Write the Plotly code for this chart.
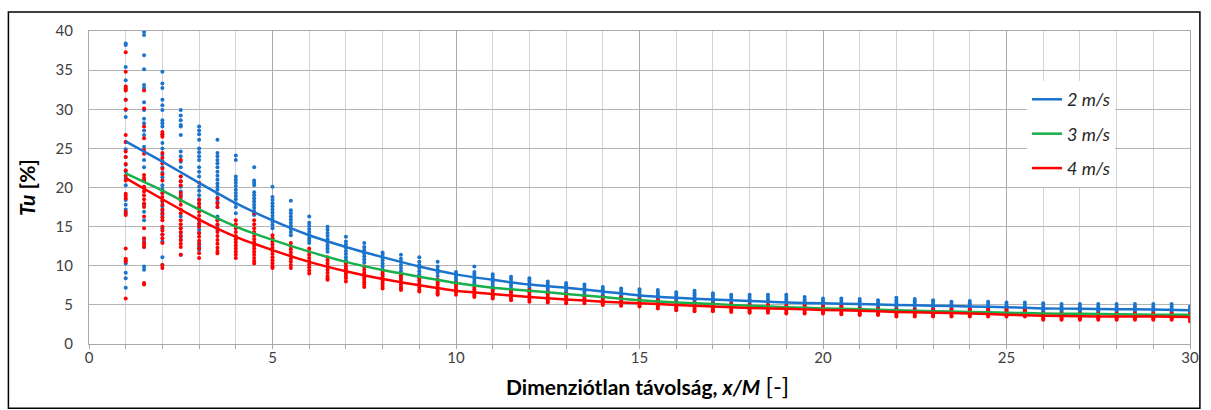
import plotly.graph_objects as go

# ---------------- data ----------------
X_COLS = [1, 1.5, 2, 2.5, 3, 3.5, 4, 4.5, 5, 5.5, 6, 6.5, 7, 7.5, 8, 8.5, 9, 9.5, 10, 10.5,
          11, 11.5, 12, 12.5, 13, 13.5, 14, 14.5, 15, 15.5, 16, 16.5, 17, 17.5, 18, 18.5, 19, 19.5,
          20, 20.5, 21, 21.5, 22, 22.5, 23, 23.5, 24, 24.5, 25, 25.5, 26, 26.5, 27, 27.5, 28, 28.5,
          29, 29.5, 30]

BLUE_COLS = [
    [38.4, 38.2, 35.4, 33.7, 32.7, 31.2, 29.9, 29.0, 25.8, 24.9, 23.9, 22.9, 22.0, 21.2, 20.3, 18.4, 17.8, 17.2, 16.7, 10.3, 9.1, 8.4, 7.2],
    [39.9, 39.5, 36.9, 35.1, 33.1, 32.7, 30.9, 29.9, 28.8, 28.2, 27.3, 26.7, 25.2, 23.5, 22.6, 20.9, 19.9, 17.8, 16.9, 15.8, 13.3, 12.4, 9.9, 9.5],
    [34.8, 33.3, 32.7, 31.2, 30.5, 29.9, 28.6, 28.2, 27.8, 26.7, 25.7, 25.0, 24.2, 23.4, 22.6, 21.9, 21.3, 20.3, 19.8, 19.3, 18.2, 17.6, 17.0, 16.5, 14.8, 14.0, 13.1, 11.1, 10.1],
    [29.9, 29.2, 28.6, 28.0, 27.8, 26.7, 24.6, 24.0, 23.3, 22.6, 21.4, 20.8, 20.1, 19.5, 19.0, 18.4, 16.3, 14.8, 14.2, 13.7, 13.3, 11.4],
    [27.8, 27.3, 26.8, 26.1, 25.0, 24.5, 24.0, 23.5, 22.6, 22.0, 21.4, 20.1, 19.6, 19.0, 18.5, 18.0, 17.5, 15.8, 15.2, 14.6, 14.2, 12.9, 12.4, 12.0],
    [26.1, 24.4, 24.0, 23.5, 23.1, 22.6, 22.0, 21.5, 21.0, 20.5, 20.1, 19.7, 19.2, 18.7, 18.2, 17.5, 16.3, 15.8, 15.2, 14.6],
    [24.1, 23.5, 21.4, 21.0, 20.6, 20.2, 19.7, 19.3, 18.9, 18.5, 18.0, 17.5, 16.7],
    [22.6, 20.9, 20.6, 20.3, 19.4, 19.0, 18.6, 18.2, 17.8, 17.4, 17.0, 16.5],
    [20.1, 18.8, 18.4, 18.0, 17.6, 17.2, 16.8, 16.4, 16.0, 15.6, 15.2, 14.8],
    [18.3, 17.1, 16.7, 16.3, 15.9, 15.5, 15.1, 14.7, 14.3, 13.9],
    [16.3, 15.5, 15.1, 14.7, 14.3, 13.9, 13.5, 13.2, 12.9],
    [15.0, 14.6, 14.2, 13.8, 13.4, 13.0, 12.6, 12.2, 11.8],
    [13.7, 13.1, 12.7, 12.3, 11.9, 11.5, 11.1, 10.7],
    [12.9, 12.4, 12.0, 11.6, 11.2, 10.8, 10.4, 9.9],
    [11.7, 11.4, 11.0, 10.7, 10.3, 9.9, 9.5],
    [11.4, 10.9, 10.5, 10.1, 9.7, 9.3, 8.8],
    [11.1, 10.5, 10.1, 9.7, 9.3, 8.9, 8.6],
    [10.5, 9.9, 9.5, 9.1, 8.7, 8.2],
    [9.2, 8.9, 8.6, 8.3, 8.0, 7.8],
    [9.9, 9.2, 8.9, 8.6, 8.3, 8.0, 7.7, 7.5],
    [8.9, 8.6, 8.3, 8.0, 7.7, 7.4, 7.1, 6.9],
    [8.6, 8.3, 8.0, 7.7, 7.4, 7.1, 6.8],
    [8.4, 8.1, 7.8, 7.5, 7.2, 6.9],
    [8.0, 7.7, 7.4, 7.1, 6.8, 6.5],
    [7.8, 7.5, 7.2, 6.9, 6.6, 6.3],
    [7.6, 7.3, 7.0, 6.7, 6.4, 6.1],
    [7.3, 7.0, 6.7, 6.4, 6.2, 6.0],
    [7.1, 6.8, 6.5, 6.2, 6.0, 5.8],
    [7.0, 6.7, 6.4, 6.1, 5.9, 5.7],
    [6.9, 6.6, 6.3, 6.1, 5.8, 5.6],
    [6.6, 6.3, 6.0, 5.7, 5.4],
    [6.8, 6.5, 6.2, 5.9, 5.6, 5.3],
    [6.5, 6.2, 5.9, 5.6, 5.4, 5.2],
    [6.3, 6.0, 5.7, 5.4, 5.1],
    [6.3, 6.0, 5.7, 5.4, 5.1],
    [6.3, 6.0, 5.7, 5.4, 5.0],
    [6.3, 6.0, 5.7, 5.4, 5.0],
    [6.0, 5.7, 5.4, 5.1, 4.9],
    [5.8, 5.5, 5.2, 5.0, 4.8],
    [5.8, 5.5, 5.2, 5.0, 4.8],
    [5.75, 5.45, 5.15, 4.85, 4.6],
    [5.6, 5.3, 5.0, 4.75, 4.5],
    [5.9, 5.6, 5.3, 5.0, 4.75, 4.5],
    [5.75, 5.45, 5.15, 4.85, 4.5],
    [5.6, 5.3, 5.0, 4.75, 4.5],
    [5.4, 5.1, 4.8, 4.5],
    [5.5, 5.2, 4.9, 4.6, 4.4],
    [5.4, 5.1, 4.8, 4.5, 4.3],
    [5.3, 5.0, 4.7, 4.4, 4.2],
    [5.3, 5.0, 4.7, 4.4, 4.2],
    [5.2, 4.9, 4.6, 4.4, 4.2],
    [5.1, 4.8, 4.5, 4.3, 4.1],
    [5.1, 4.8, 4.5, 4.3, 4.1],
    [5.1, 4.8, 4.5, 4.3, 4.1],
    [5.1, 4.8, 4.5, 4.3, 4.1],
    [5.1, 4.8, 4.5, 4.3, 4.1],
    [5.1, 4.8, 4.5, 4.3, 4.1],
    [5.1, 4.8, 4.5, 4.3, 4.1],
    [4.8, 4.5, 4.2, 3.9],
]

RED_COLS = [
    [37.3, 34.8, 32.9, 32.6, 32.4, 31.2, 30.0, 26.7, 25.8, 24.6, 23.9, 23.0, 22.2, 21.5, 20.9, 19.2, 18.9, 18.6, 16.9, 16.5, 12.2, 10.9, 10.7, 10.5, 5.8],
    [32.4, 30.1, 27.8, 26.3, 24.8, 24.3, 21.6, 21.2, 20.9, 20.1, 19.5, 19.0, 18.5, 18.0, 17.5, 16.3, 14.8, 13.5, 13.0, 12.7, 12.4, 7.8, 7.6],
    [27.1, 26.8, 26.5, 24.4, 23.8, 23.1, 22.4, 21.7, 20.9, 19.3, 18.8, 18.3, 17.8, 17.2, 16.7, 16.2, 15.8, 15.0, 14.5, 14.0, 13.5, 12.9, 10.1, 9.7],
    [23.5, 21.4, 20.8, 20.3, 19.3, 18.8, 18.3, 17.8, 17.2, 16.7, 15.8, 15.3, 14.8, 14.3, 13.8, 13.3, 12.8, 12.4, 11.4],
    [20.6, 18.4, 17.9, 17.4, 16.9, 16.4, 15.9, 15.4, 15.0, 14.2, 13.7, 13.2, 12.7, 12.2, 11.6, 11.0],
    [18.6, 18.0, 17.5, 15.8, 15.3, 14.8, 14.3, 13.8, 13.3, 12.8, 12.3, 11.9, 11.6],
    [15.8, 15.3, 14.8, 14.3, 13.8, 13.4, 13.0, 12.6, 12.2, 11.8, 11.4, 11.0],
    [16.7, 15.8, 15.3, 14.8, 14.3, 13.8, 13.4, 13.0, 12.6, 12.2, 11.8, 11.4, 11.0, 10.6, 10.3],
    [13.9, 13.5, 13.1, 12.7, 12.3, 11.9, 11.5, 11.1, 10.7, 10.3, 9.9, 9.7],
    [12.9, 12.5, 12.1, 11.7, 11.3, 10.9, 10.5, 10.1, 9.7],
    [12.2, 11.8, 11.4, 11.0, 10.6, 10.2, 9.8, 9.4, 9.0],
    [11.1, 10.7, 10.3, 9.9, 9.5, 9.1, 8.7, 8.4, 8.2],
    [10.3, 9.9, 9.6, 9.3, 9.0, 8.7, 8.4, 8.0],
    [9.9, 9.5, 9.1, 8.8, 8.5, 8.2, 7.9, 7.6, 7.3],
    [9.2, 8.9, 8.6, 8.3, 8.0, 7.7, 7.4, 7.1],
    [8.8, 8.5, 8.2, 7.9, 7.6, 7.3, 7.1, 6.9],
    [8.4, 8.1, 7.8, 7.5, 7.2, 6.9, 6.7],
    [8.2, 7.9, 7.6, 7.3, 7.0, 6.7, 6.5, 6.3],
    [7.8, 7.5, 7.2, 6.9, 6.6, 6.3],
    [7.3, 7.0, 6.7, 6.4, 6.2, 6.0],
    [7.1, 6.8, 6.5, 6.2, 6.0, 5.8],
    [6.9, 6.6, 6.3, 6.0, 5.8, 5.6],
    [6.9, 6.6, 6.3, 6.0, 5.7, 5.4],
    [6.6, 6.3, 6.0, 5.7, 5.5, 5.3],
    [6.4, 6.1, 5.8, 5.5, 5.2],
    [6.1, 5.8, 5.5, 5.2],
    [6.0, 5.7, 5.4, 5.2, 5.0],
    [5.9, 5.6, 5.3, 5.0, 4.9],
    [5.7, 5.4, 5.1, 4.9, 4.8],
    [5.6, 5.3, 5.0, 4.8, 4.55],
    [5.3, 5.0, 4.7, 4.5, 4.3],
    [5.2, 4.9, 4.6, 4.4, 4.2],
    [5.1, 4.8, 4.5, 4.3, 4.2],
    [5.1, 4.8, 4.5, 4.3, 4.1],
    [5.0, 4.7, 4.4, 4.2, 4.0],
    [5.0, 4.7, 4.4, 4.2, 4.0],
    [4.85, 4.6, 4.35, 4.1, 3.9],
    [4.85, 4.6, 4.35, 4.1, 3.9],
    [4.8, 4.5, 4.25, 4.0, 3.9],
    [4.8, 4.5, 4.25, 4.0, 3.8],
    [4.5, 4.25, 4.0, 3.8, 3.7],
    [4.5, 4.25, 4.0, 3.8, 3.7],
    [4.4, 4.15, 3.9, 3.7, 3.5],
    [4.4, 4.15, 3.9, 3.7, 3.5],
    [4.4, 4.15, 3.9, 3.7, 3.5],
    [4.4, 4.15, 3.9, 3.7, 3.5],
    [4.4, 4.15, 3.9, 3.7, 3.5],
    [4.4, 4.15, 3.9, 3.7, 3.5],
    [4.4, 4.15, 3.9, 3.7, 3.5],
    [4.4, 4.15, 3.9, 3.7, 3.5],
    [3.9, 3.7, 3.5, 3.3, 3.1],
    [3.9, 3.7, 3.5, 3.3, 3.1],
    [3.9, 3.7, 3.5, 3.3, 3.1],
    [3.9, 3.7, 3.5, 3.3, 3.1],
    [3.9, 3.7, 3.5, 3.3, 3.1],
    [3.9, 3.7, 3.5, 3.3, 3.1],
    [3.9, 3.7, 3.5, 3.3, 3.1],
    [3.9, 3.7, 3.5, 3.3, 3.1],
    [3.9, 3.6, 3.3, 3.1, 2.9],
]

TREND_X = list(range(1, 31))
TREND_2 = [25.9, 23.3, 20.6, 18.0, 15.8, 13.9, 12.4, 11.1, 9.9, 8.9, 8.2, 7.6, 7.2, 6.7, 6.2,
           5.9, 5.7, 5.5, 5.3, 5.2, 5.1, 5.0, 4.9, 4.8, 4.7, 4.55, 4.5, 4.45, 4.4, 4.3]
TREND_3 = [21.8, 19.6, 17.2, 15.0, 13.3, 11.8, 10.5, 9.45, 8.6, 7.8, 7.2, 6.8, 6.4, 6.0, 5.6,
           5.3, 5.1, 4.9, 4.7, 4.55, 4.45, 4.3, 4.2, 4.1, 4.0, 3.9, 3.85, 3.8, 3.75, 3.75]
TREND_4 = [21.2, 18.5, 15.9, 13.7, 12.0, 10.5, 9.3, 8.3, 7.5, 6.8, 6.4, 6.0, 5.7, 5.4, 5.2,
           5.0, 4.8, 4.6, 4.5, 4.35, 4.25, 4.1, 4.0, 3.9, 3.75, 3.6, 3.55, 3.5, 3.5, 3.45]

SERIES_NAMES = ["2 m/s", "3 m/s", "4 m/s"]
X_TICKS = [0, 5, 10, 15, 20, 25, 30]
Y_TICKS = [0, 5, 10, 15, 20, 25, 30, 35, 40]
X_TITLE = "<b>Dimenziótlan távolság, <i>x/M</i></b> <span style='font-size:24px'>[-]</span>"
Y_TITLE = "<b><i>Tu</i> [%]</b>"

# ---------------- styles ----------------
BLUE = "#1a73cc"
GREEN = "#17b04a"
RED = "#ff0000"
FONT = "Lato"


def flatten(cols):
    xs, ys = [], []
    for x, col in zip(X_COLS, cols):
        for y in col:
            xs.append(x)
            ys.append(y)
    return xs, ys


fig = go.Figure()
bx, by = flatten(BLUE_COLS)
rx, ry = flatten(RED_COLS)
fig.add_trace(go.Scatter(x=bx, y=by, mode="markers", showlegend=False,
                         marker=dict(color=BLUE, size=4, line=dict(width=0))))
fig.add_trace(go.Scatter(x=rx, y=ry, mode="markers", showlegend=False,
                         marker=dict(color=RED, size=4, line=dict(width=0))))

for name, vals, col in zip(SERIES_NAMES, [TREND_2, TREND_3, TREND_4], [BLUE, GREEN, RED]):
    fig.add_trace(go.Scatter(x=TREND_X, y=vals, mode="lines", name=name, legendgroup=name,
                             line=dict(color=col, width=2.5, shape="spline", smoothing=0.6)))

fig.update_layout(
    width=1211, height=410,
    margin=dict(l=89, r=16, t=31, b=66),
    paper_bgcolor="white", plot_bgcolor="white",
    font=dict(family=FONT, color="#404040"),
    showlegend=True,
    legend=dict(x=0.852, y=0.84, xanchor="left", yanchor="top",
                bgcolor="white", borderwidth=0, tracegroupgap=8,
                font=dict(family=FONT, size=18, color="#262626", style="italic"),
                itemwidth=30),
    xaxis=dict(range=[0, 30], tickvals=X_TICKS, showgrid=True, gridcolor="#a9a9a9", gridwidth=1.3,
               minor=dict(dtick=1, showgrid=True, gridcolor="#d4d4d4", gridwidth=1.3,
                          ticks="outside", ticklen=4, tickcolor="#a9a9a9"),
               ticks="", ticklabelstandoff=0,
               showline=True, linecolor="#a9a9a9", linewidth=1.3, mirror=True,
               zeroline=False, tickfont=dict(family=FONT, size=15, color="#404040")),
    yaxis=dict(range=[0, 40], tickvals=Y_TICKS, showgrid=True, gridcolor="#b4b4b4", gridwidth=1.3,
               showline=True, linecolor="#a9a9a9", linewidth=1.3, mirror=True,
               zeroline=False, ticks="", ticklabelstandoff=12,
               tickfont=dict(family=FONT, size=15, color="#404040"),
               title=dict(text=Y_TITLE, font=dict(family=FONT, size=21, color="#000000"),
                          standoff=14)),
)

# x-axis title placed where the reference has it
fig.add_annotation(text=X_TITLE, xref="paper", yref="paper", x=0.507, y=-0.134,
                   xanchor="center", yanchor="middle", showarrow=False,
                   font=dict(family=FONT, size=21, color="#000000"))

# outer chart border
fig.add_shape(type="rect", xref="paper", yref="paper",
              x0=-0.0732, x1=1.009, y0=-0.205, y1=1.0607,
              line=dict(color="black", width=1.5), fillcolor="rgba(0,0,0,0)", layer="above")

fig.write_html("out.html")
